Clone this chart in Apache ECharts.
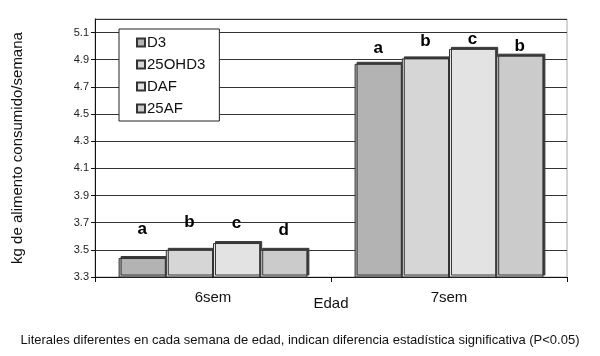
<!DOCTYPE html>
<html><head><meta charset="utf-8">
<script src="https://cdn.jsdelivr.net/npm/echarts@6/dist/echarts.min.js"></script>
<style>html,body{margin:0;padding:0;background:#fff}#c{width:600px;height:356px}</style>
</head><body><div id="c"></div>
<script>
var categories = ['6sem', '7sem'];
var seriesNames = ['D3', '25OHD3', 'DAF', '25AF'];
var D3 = [3.44, 4.87];
var OHD3 = [3.50, 4.91];
var DAF = [3.55, 4.98];
var AF = [3.50, 4.93];
var letD3 = ['a', 'a'];
var letOHD3 = ['b', 'b'];
var letDAF = ['c', 'c'];
var letAF = ['d', 'b'];
var yTicks = ['3.3','3.5','3.7','3.9','4.1','4.3','4.5','4.7','4.9','5.1'];

var values = [D3, OHD3, DAF, AF];
var letters = [letD3, letOHD3, letDAF, letAF];
var colors = ['#b3b3b3', '#d6d6d6', '#e3e3e3', '#cbcbcb'];
// label lift (style only): distance of each letter above its bar, per series per category
var labelLift = [[20, 7], [19, 9], [11, 1], [11, 1]];

var chart = echarts.init(document.getElementById('c'), null, {renderer: 'canvas'});
var series = values.map(function (v, i) {
  return {
    name: seriesNames[i],
    type: 'bar',
    data: v.map(function (val, j) {
      return {value: val, label: {distance: labelLift[i][j]}};
    }),
    barGap: '0%',
    barCategoryGap: '20%',
    itemStyle: {
      color: colors[i],
      borderColor: '#333',
      borderWidth: 1,
      shadowColor: '#3a3a3a',
      shadowBlur: 0,
      shadowOffsetX: 2,
      shadowOffsetY: -2
    },
    label: {
      show: true,
      position: 'top',
      fontFamily: 'Liberation Sans, Arial, sans-serif',
      fontWeight: 'bold',
      fontSize: 17,
      color: '#000',
      formatter: function (p) { return letters[i][p.dataIndex]; }
    }
  };
});

chart.setOption({
  animation: false,
  backgroundColor: '#fff',
  textStyle: {fontFamily: 'Liberation Sans, Arial, sans-serif'},
  title: {
    text: 'Literales diferentes en cada semana de edad, indican diferencia estadística significativa (P<0.05)',
    left: 'center',
    top: 329,
    textStyle: {fontSize: 13, fontWeight: 'normal', color: '#111', fontFamily: 'Liberation Sans, Arial, sans-serif'}
  },
  legend: {
    orient: 'vertical',
    left: 119,
    top: 29,
    data: seriesNames,
    icon: 'rect',
    itemWidth: 8,
    itemHeight: 8,
    itemGap: 7,
    padding: [6, 14, 5, 17],
    backgroundColor: '#fff',
    borderColor: '#222',
    borderWidth: 1,
    textStyle: {fontSize: 15, color: '#111', padding: [0, 0, 0, -3]}
  },
  grid: {
    left: 95, right: 33, top: 19, bottom: 79,
    show: true, borderColor: '#aaa', borderWidth: 1, backgroundColor: 'transparent'
  },
  xAxis: {
    type: 'category',
    data: categories,
    name: 'Edad',
    nameLocation: 'middle',
    nameGap: 19,
    nameMoveOverlap: false,
    nameTextStyle: {fontSize: 15, color: '#111'},
    axisLine: {lineStyle: {color: '#111', width: 1}},
    axisTick: {show: true, alignWithLabel: false, length: 5, lineStyle: {color: '#111'}},
    axisLabel: {fontSize: 15, color: '#111', margin: 13}
  },
  yAxis: {
    type: 'value',
    min: 3.3,
    max: 5.2,
    interval: 0.2,
    name: 'kg de alimento consumido/semana',
    nameLocation: 'middle',
    nameGap: 70,
    nameTextStyle: {fontSize: 15, color: '#111'},
    axisLine: {show: true, lineStyle: {color: '#111', width: 1}},
    axisTick: {show: true, length: 4, lineStyle: {color: '#111'}},
    axisLabel: {
      fontSize: 11, color: '#222', margin: 6, showMaxLabel: false,
      formatter: function (v) {
        var s = v.toFixed(1);
        return yTicks.indexOf(s) >= 0 ? s : '';
      }
    },
    splitLine: {show: true, lineStyle: {color: '#333', width: 1}}
  },
  series: series
});
</script></body></html>
